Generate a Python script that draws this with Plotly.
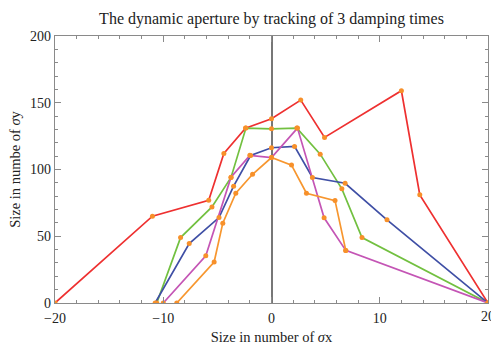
import plotly.graph_objects as go

title = "The dynamic aperture by tracking of 3 damping times"

red_x = [-20, -11.0, -5.8, -4.4, -2.4, 0, 2.7, 4.9, 12.0, 13.7, 20]
red_y = [0, 65, 77, 112, 131, 138, 152, 124, 159, 81, 0]

green_x = [-10.6, -8.4, -5.5, -3.74, -2.36, 0, 2.34, 4.5, 6.5, 8.36, 20]
green_y = [0, 49, 72, 94, 131, 130.5, 131, 111.5, 85.5, 49, 0]

blue_x = [-10.75, -7.6, -4.85, -3.5, -1.93, 0, 2.13, 3.78, 6.8, 10.67, 20]
blue_y = [0, 44.5, 64, 87.5, 110.5, 116.3, 117.3, 94, 89.7, 62.3, 0]

purple_x = [-10.0, -6.07, -3.74, -2.0, 0, 2.4, 4.86, 6.86, 20]
purple_y = [0, 35.4, 94.2, 110.6, 109, 131, 63.8, 39.4, 0]

orange_x = [-8.75, -5.3, -4.5, -3.3, -1.75, 0, 1.85, 3.23, 5.87, 6.86]
orange_y = [0, 30.7, 59.8, 82.2, 96.4, 109, 103.3, 82.2, 76.7, 39.4]

series = [
    ("red", red_x, red_y, "#EE3030"),
    ("green", green_x, green_y, "#72C040"),
    ("blue", blue_x, blue_y, "#3F4FA5"),
    ("purple", purple_x, purple_y, "#C455B5"),
    ("orange", orange_x, orange_y, "#F7962E"),
]

x_ticks = [-20, -10, 0, 10, 20]
x_labels = ["\u221220", "\u221210", "0", "10", "20"]
y_ticks = [0, 50, 100, 150, 200]

fig = go.Figure()
for name, xs, ys, col in series:
    fig.add_trace(go.Scatter(x=xs, y=ys, mode="lines", name=name,
                             line=dict(color=col, width=1.7), showlegend=False))
for name, xs, ys, col in series:
    fig.add_trace(go.Scatter(x=xs, y=ys, mode="markers", name=name + " pts",
                             marker=dict(color="#F7902A", size=5), showlegend=False))

serif = "Liberation Serif, Times New Roman, serif"
axcol = "#8a8a8a"

# right-edge tick label (partly cut by the page edge, as in the reference)
fig.add_annotation(x=x_ticks[-1], xref="x", y=0, yref="paper", yanchor="top",
                   yshift=-4, text=x_labels[-1], showarrow=False,
                   font=dict(family=serif, size=14, color="#222"))

fig.update_layout(
    width=491, height=347,
    margin=dict(l=55, r=3, t=36, b=44),
    paper_bgcolor="white", plot_bgcolor="white",
    font=dict(family=serif, size=13, color="#222"),
    title=dict(text=title, x=0.5, xref="paper", xanchor="center", y=0.948, yanchor="middle",
               font=dict(family=serif, size=16, color="#222")),
    xaxis=dict(range=[-20, 20], tickvals=x_ticks, ticktext=x_labels,
               ticks="inside", ticklen=6, tickcolor=axcol, tickwidth=1,
               minor=dict(dtick=2, tick0=0, ticks="inside", ticklen=3, tickcolor=axcol, showgrid=False),
               showline=True, linecolor=axcol, linewidth=1.2, mirror="allticks",
               showgrid=False, zeroline=True, zerolinecolor="#777", zerolinewidth=1.5,
               ticklabelstandoff=2,
               title=dict(text="Size in number of <i>\u03c3</i>x", standoff=6,
                          font=dict(family=serif, size=14.5)),
               tickfont=dict(family=serif, size=14)),
    yaxis=dict(range=[0, 200], tickvals=y_ticks,
               ticks="inside", ticklen=6, tickcolor=axcol, tickwidth=1,
               minor=dict(dtick=10, tick0=0, ticks="inside", ticklen=3, tickcolor=axcol, showgrid=False),
               showline=True, linecolor=axcol, linewidth=1.2, mirror="allticks",
               showgrid=False, zeroline=False,
               title=dict(text="Size in numbe of <i>\u03c3</i>y", standoff=6,
                          font=dict(family=serif, size=14.5)),
               tickfont=dict(family=serif, size=14)),
)

fig.write_html("out.html")
